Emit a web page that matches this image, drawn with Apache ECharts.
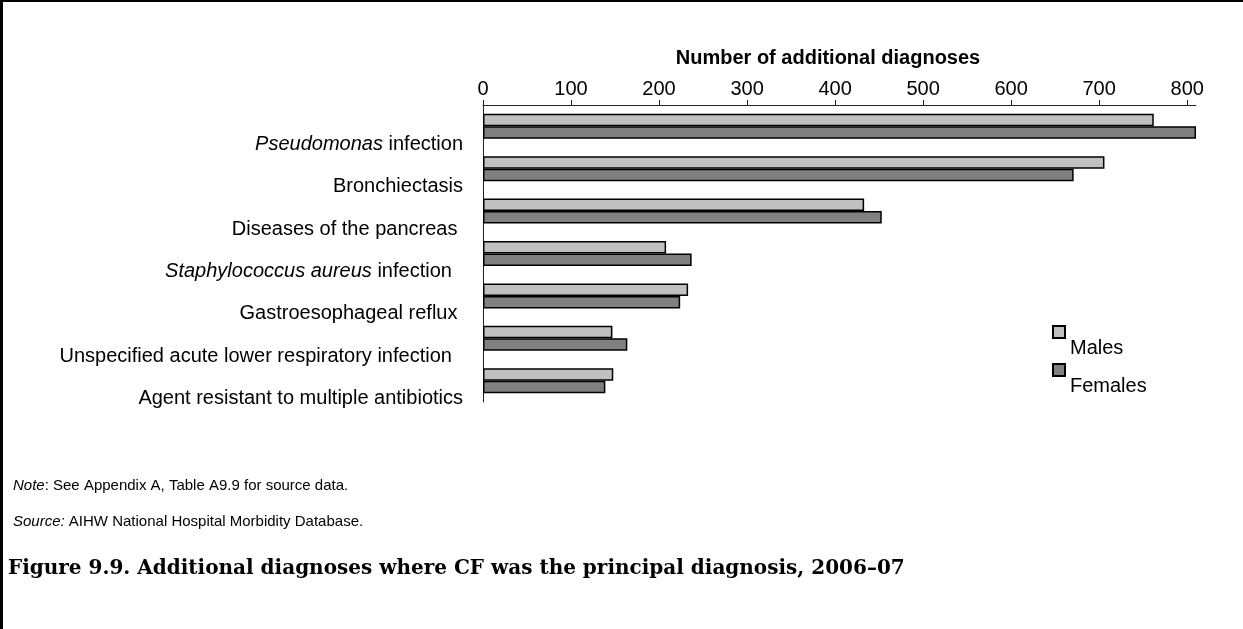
<!DOCTYPE html>
<html>
<head>
<meta charset="utf-8">
<script src="https://cdn.jsdelivr.net/npm/echarts@6/dist/echarts.min.js"></script>
<style>
  html, body { margin: 0; padding: 0; background: #fff; }
  #chart { width: 1243px; height: 629px; }
</style>
</head>
<body>
<div id="chart"></div>
<script>
// Diagnoses (trailing spaces keep the original label indents)
const categories = [
  'Pseudomonas infection',
  'Bronchiectasis',
  'Diseases of the pancreas ',
  'Staphylococcus aureus infection  ',
  'Gastroesophageal reflux ',
  'Unspecified acute lower respiratory infection  ',
  'Agent resistant to multiple antibiotics'
];
// Organism names set in italics
const italicTerms = ['Pseudomonas', 'Staphylococcus aureus'];

const males   = [762, 706, 433, 208, 233, 147, 148];
const females = [810, 671, 453, 237, 224, 164, 139];

const tickValues = [0, 100, 200, 300, 400, 500, 600, 700, 800];

const axisTitle = 'Number of additional diagnoses';
const noteLabel = 'Note';
const noteText = ': See Appendix A, Table A9.9 for source data.';
const sourceLabel = 'Source:';
const sourceText = ' AIHW National Hospital Morbidity Database.';
const caption = 'Figure 9.9. Additional diagnoses where CF was the principal diagnosis, 2006\u201307';

const FONT = '"Liberation Sans", Arial, sans-serif';

function richLabel(name) {
  for (const term of italicTerms) {
    if (name.startsWith(term)) {
      return '{i|' + term + '}{n|' + name.slice(term.length) + '}';
    }
  }
  return '{n|' + name + '}';
}

const chart = echarts.init(document.getElementById('chart'), null, { renderer: 'canvas' });

const barBorder = { borderColor: '#000', borderWidth: 1.5 };

// Legend entries sit with their text dropped below the swatch
function legendEntry(name, top) {
  return {
    data: [name],
    left: 1052, top: top,
    padding: 0,
    icon: 'rect', itemWidth: 12, itemHeight: 12, itemGap: 7,
    formatter: '{t|{name}}',
    textStyle: {
      rich: {
        t: { fontFamily: FONT, fontSize: 20, color: '#000', padding: [32, 0, 0, 0] }
      }
    }
  };
}

const smallRich = {
  i: { fontFamily: FONT, fontSize: 15, fontStyle: 'italic', fontWeight: 'normal', color: '#000' },
  n: { fontFamily: FONT, fontSize: 15, fontWeight: 'normal', color: '#000' }
};

chart.setOption({
  backgroundColor: '#fff',
  animation: false,
  grid: { left: 483, right: 47, top: 105, bottom: 227, containLabel: false },
  xAxis: {
    type: 'value',
    position: 'top',
    min: 0,
    max: 810,
    interval: 100,
    name: axisTitle,
    nameLocation: 'middle',
    nameGap: 37,
    nameTextStyle: { fontFamily: FONT, fontSize: 20, fontWeight: 'bold', color: '#000', padding: [0, 23, 0, 0] },
    axisLine: { show: true, lineStyle: { color: '#222', width: 1 } },
    axisTick: { show: true, length: 5, inside: false, customValues: tickValues, lineStyle: { color: '#222' } },
    axisLabel: { customValues: tickValues, fontFamily: FONT, fontSize: 20, color: '#000', margin: 6 },
    splitLine: { show: false }
  },
  yAxis: {
    type: 'category',
    inverse: true,
    data: categories,
    axisLine: { show: true, lineStyle: { color: '#222', width: 1 } },
    axisTick: { show: false },
    axisLabel: {
      margin: 20,
      padding: [36, 0, 0, 0],
      formatter: richLabel,
      rich: {
        n: { fontFamily: FONT, fontSize: 20, color: '#000' },
        i: { fontFamily: FONT, fontSize: 20, fontStyle: 'italic', color: '#000' }
      }
    }
  },
  legend: [legendEntry('Males', 325), legendEntry('Females', 363)],
  title: [
    {
      text: '{i|' + noteLabel + '}{n|' + noteText + '}',
      left: 8, top: 473,
      textStyle: { fontWeight: 'normal', rich: smallRich }
    },
    {
      text: '{i|' + sourceLabel + '}{n|' + sourceText + '}',
      left: 8, top: 509,
      textStyle: { fontWeight: 'normal', rich: smallRich }
    },
    {
      text: caption,
      left: 3, top: 554,
      textStyle: { fontFamily: '"DejaVu Serif", serif', fontSize: 20, fontWeight: 'bold', color: '#000' }
    }
  ],
  graphic: [
    { type: 'rect', left: 0, top: 0, shape: { width: 1243, height: 2 }, style: { fill: '#000' } },
    { type: 'rect', left: 0, top: 0, shape: { width: 3, height: 629 }, style: { fill: '#000' } }
  ],
  series: [
    {
      name: 'Males',
      type: 'bar',
      data: males,
      barGap: '0%',
      barCategoryGap: '41%',
      itemStyle: Object.assign({ color: '#c0c0c0' }, barBorder)
    },
    {
      name: 'Females',
      type: 'bar',
      data: females,
      itemStyle: Object.assign({ color: '#808080' }, barBorder)
    }
  ]
});
</script>
</body>
</html>
